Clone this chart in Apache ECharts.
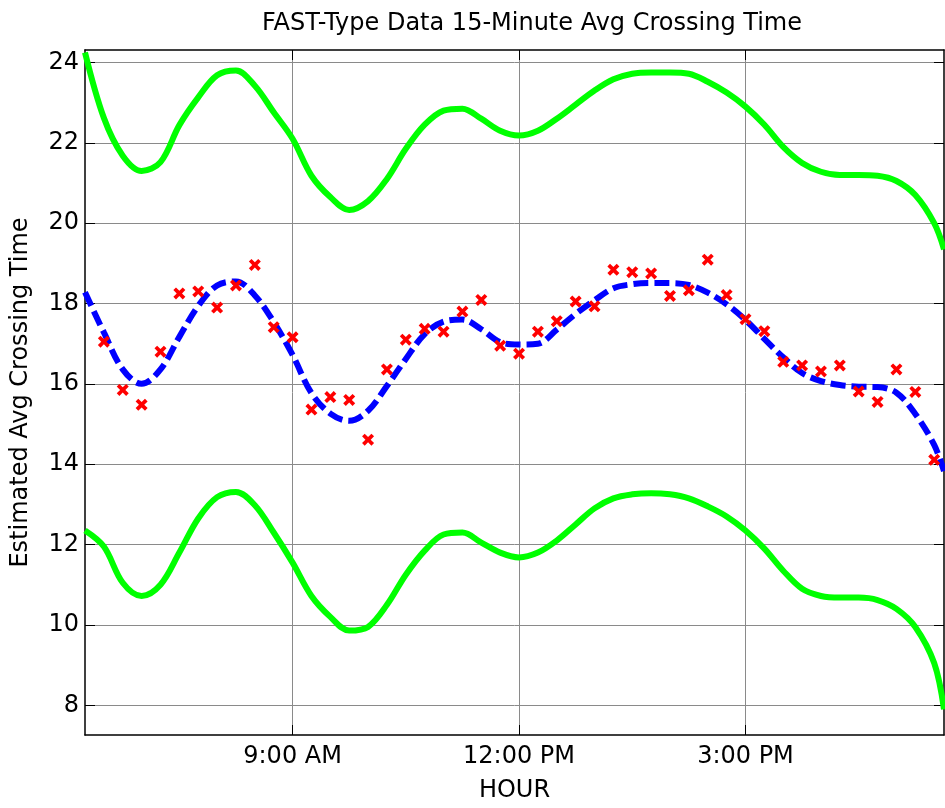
<!DOCTYPE html>
<html>
<head>
<meta charset="utf-8">
<script src="https://cdn.jsdelivr.net/npm/echarts@6/dist/echarts.min.js"></script>
<style>
html,body{margin:0;padding:0;background:#fff;}
#chart{width:945px;height:808px;}
</style>
</head>
<body>
<div id="chart"></div>
<script>
// ---- data ----
const titleText = 'FAST-Type Data 15-Minute Avg Crossing Time';
const xAxisName = 'HOUR';
const yAxisName = 'Estimated Avg Crossing Time';

const xTickValues = [9, 12, 15];
const xTickLabels = ['9:00 AM', '12:00 PM', '3:00 PM'];
const yTickValues = [8, 10, 12, 14, 16, 18, 20, 22, 24];

// observed 15-minute averages (red x markers)
const obsHours = [6.5, 6.75, 7, 7.25, 7.5, 7.75, 8, 8.25, 8.5, 8.75, 9, 9.25, 9.5, 9.75, 10, 10.25, 10.5, 10.75, 11, 11.25, 11.5, 11.75, 12, 12.25, 12.5, 12.75, 13, 13.25, 13.5, 13.75, 14, 14.25, 14.5, 14.75, 15, 15.25, 15.5, 15.75, 16, 16.25, 16.5, 16.75, 17, 17.25, 17.5];
const obsValues = [17.05, 15.85, 15.48, 16.80, 18.25, 18.30, 17.90, 18.45, 18.96, 17.41, 17.16, 15.36, 15.67, 15.60, 14.61, 16.36, 17.10, 17.37, 17.30, 17.80, 18.09, 16.95, 16.75, 17.30, 17.56, 18.05, 17.93, 18.84, 18.78, 18.75, 18.19, 18.33, 19.09, 18.21, 17.61, 17.31, 16.55, 16.46, 16.31, 16.46, 15.81, 15.55, 16.36, 15.80, 14.11];

// fitted curve (blue dashed) and bounds (green)
const fitHours = [6.25, 6.5, 6.75, 7, 7.25, 7.5, 7.75, 8, 8.25, 8.5, 8.75, 9, 9.25, 9.5, 9.75, 10, 10.25, 10.5, 10.75, 11, 11.25, 11.5, 11.75, 12, 12.25, 12.5, 12.75, 13, 13.25, 13.5, 13.75, 14, 14.25, 14.5, 14.75, 15, 15.25, 15.5, 15.75, 16, 16.25, 16.5, 16.75, 17, 17.25, 17.5, 17.63];
const fitValues = [18.28, 17.28, 16.36, 16.00, 16.36, 17.17, 17.94, 18.45, 18.55, 18.20, 17.54, 16.72, 15.77, 15.26, 15.08, 15.33, 15.95, 16.62, 17.24, 17.55, 17.60, 17.36, 17.04, 16.98, 17.00, 17.35, 17.74, 18.08, 18.38, 18.48, 18.51, 18.51, 18.46, 18.27, 17.98, 17.59, 17.12, 16.66, 16.27, 16.07, 15.97, 15.93, 15.92, 15.78, 15.25, 14.48, 13.83];
const upperValues = [24.25, 22.62, 21.68, 21.30, 21.52, 22.44, 23.13, 23.68, 23.80, 23.42, 22.76, 22.10, 21.18, 20.65, 20.33, 20.55, 21.10, 21.85, 22.45, 22.80, 22.85, 22.60, 22.30, 22.18, 22.30, 22.60, 22.95, 23.30, 23.58, 23.72, 23.75, 23.75, 23.72, 23.52, 23.25, 22.90, 22.45, 21.90, 21.50, 21.28, 21.20, 21.20, 21.18, 21.05, 20.70, 20.00, 19.35];
const lowerValues = [12.35, 11.95, 11.05, 10.72, 11.00, 11.80, 12.65, 13.18, 13.31, 12.98, 12.30, 11.55, 10.72, 10.20, 9.86, 9.95, 10.50, 11.25, 11.85, 12.25, 12.30, 12.05, 11.80, 11.68, 11.80, 12.10, 12.50, 12.90, 13.15, 13.25, 13.28, 13.25, 13.15, 12.95, 12.70, 12.35, 11.90, 11.35, 10.90, 10.72, 10.68, 10.68, 10.62, 10.40, 9.95, 9.05, 7.90];

const xMin = 6.25, xMax = 17.63;
const yMin = 7.26, yMax = 24.31;

// ---- chart ----
const pair = (xs, ys) => xs.map((x, i) => [x, ys[i]]);
const FONT = 'DejaVu Sans';
const xSymbol = 'path://M0,2.2 L2.2,0 L5,2.8 L7.8,0 L10,2.2 L7.2,5 L10,7.8 L7.8,10 L5,7.2 L2.2,10 L0,7.8 L2.8,5 Z';

const chart = echarts.init(document.getElementById('chart'), null, {renderer: 'canvas'});

const gridLine = {show: true, lineStyle: {color: '#8a8a8a', width: 1}};
const boxLine = {show: true, onZero: false, lineStyle: {color: '#000', width: 1.5}};

chart.setOption({
  animation: false,
  backgroundColor: '#fff',
  textStyle: {fontFamily: FONT},
  title: {
    text: titleText,
    left: 527, top: 7, textAlign: 'center',
    textStyle: {fontFamily: FONT, fontSize: 24, fontWeight: 'normal', color: '#000'}
  },
  grid: {left: 85, right: 1, top: 50, bottom: 72, containLabel: false},
  xAxis: [{
    type: 'value', min: xMin, max: xMax, position: 'bottom',
    axisLine: boxLine,
    axisTick: {show: true, inside: true, length: 10, customValues: xTickValues, lineStyle: {color: '#000', width: 1}},
    axisLabel: {
      show: true, customValues: xTickValues, margin: 10,
      fontFamily: FONT, fontSize: 24, color: '#000',
      formatter: v => xTickLabels[xTickValues.indexOf(v)] ?? ''
    },
    splitLine: gridLine,
    name: xAxisName, nameLocation: 'middle', nameGap: 44,
    nameTextStyle: {fontFamily: FONT, fontSize: 24, color: '#000'}
  }, {
    type: 'value', min: xMin, max: xMax, position: 'top',
    axisLine: boxLine,
    axisTick: {show: true, inside: true, length: 10, customValues: xTickValues, lineStyle: {color: '#000', width: 1}},
    axisLabel: {show: false},
    splitLine: {show: false}
  }],
  yAxis: [{
    type: 'value', min: yMin, max: yMax, position: 'left',
    axisLine: boxLine,
    axisTick: {show: true, inside: true, length: 10, customValues: yTickValues, lineStyle: {color: '#000', width: 1}},
    axisLabel: {show: true, customValues: yTickValues, margin: 6, fontFamily: FONT, fontSize: 24, color: '#000'},
    splitLine: gridLine,
    name: yAxisName, nameLocation: 'middle', nameGap: 52,
    nameTextStyle: {fontFamily: FONT, fontSize: 24, color: '#000'}
  }, {
    type: 'value', min: yMin, max: yMax, position: 'right',
    axisLine: boxLine,
    axisTick: {show: true, inside: true, length: 10, customValues: yTickValues, lineStyle: {color: '#000', width: 1}},
    axisLabel: {show: false},
    splitLine: {show: false}
  }],
  series: [{
    name: 'Upper', type: 'line', data: pair(fitHours, upperValues),
    showSymbol: false, smooth: 0.35, clip: true,
    lineStyle: {color: '#00ff00', width: 6}, z: 2
  }, {
    name: 'Lower', type: 'line', data: pair(fitHours, lowerValues),
    showSymbol: false, smooth: 0.35, clip: true,
    lineStyle: {color: '#00ff00', width: 6}, z: 2
  }, {
    name: 'Fit', type: 'line', data: pair(fitHours, fitValues),
    showSymbol: false, smooth: 0.35, clip: true,
    lineStyle: {color: '#0000ff', width: 6, type: [15, 6], cap: 'butt'}, z: 3
  }, {
    name: 'Observed', type: 'scatter', data: pair(obsHours, obsValues),
    symbol: xSymbol, symbolSize: 12,
    itemStyle: {color: '#ff0000', opacity: 1}, z: 4
  }]
});
</script>
</body>
</html>
